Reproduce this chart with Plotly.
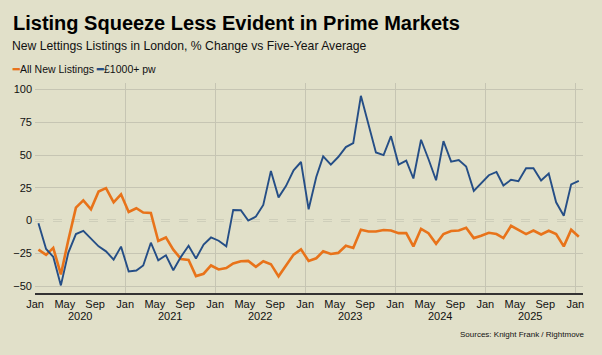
import plotly.graph_objects as go
import pandas as pd

# ---- data ----
months = pd.date_range("2020-01-01", periods=73, freq="MS") + pd.Timedelta(days=14)
all_new_listings = [
    -22.2, -26.2, -20.9, -41.1, -15.0, 9.9, 15.4, 8.6, 22.2, 24.8, 13.9, 20.0,
    6.6, 9.4, 6.1, 5.8, -15.6, -12.9, -22.2, -29.3, -30.0, -42.4, -40.6, -34.3,
    -37.3, -36.3, -32.8, -31.0, -30.8, -35.3, -31.0, -33.3, -42.6, -34.5, -26.0, -22.0,
    -30.8, -28.8, -23.5, -25.5, -24.7, -19.2, -20.9, -7.0, -8.3, -8.3, -7.2, -7.6,
    -9.6, -9.6, -19.7, -6.3, -9.7, -17.8, -10.3, -8.0, -7.6, -5.5, -13.4, -11.6,
    -9.3, -10.3, -13.4, -4.0, -7.0, -10.3, -7.6, -10.6, -7.8, -10.3, -19.7, -7.0,
    -12.3,
]
prime_1000pw = [
    -2.0, -21.7, -27.7, -49.5, -24.7, -10.3, -7.8, -14.1, -19.7, -23.5, -29.8, -19.9,
    -38.9, -38.1, -34.3, -16.9, -30.3, -26.5, -37.9, -27.7, -19.2, -29.0, -18.4, -12.9,
    -15.4, -19.7, 8.1, 7.9, 0.0, 3.0, 11.9, 37.9, 17.7, 26.3, 38.4, 44.7,
    8.6, 33.3, 49.0, 42.7, 48.5, 56.1, 59.1, 95.2, 73.8, 52.0, 50.0, 64.4,
    42.7, 45.7, 32.1, 61.7, 47.0, 30.8, 60.6, 45.0, 46.2, 41.2, 22.7, 28.3,
    34.6, 37.1, 26.8, 31.1, 30.1, 39.9, 39.9, 30.6, 35.9, 13.9, 3.6, 27.6,
    30.3,
]
years = [2020, 2021, 2022, 2023, 2024, 2025]
month_labels = ["Jan", "May", "Sep"]
y_ticks = [-50, -25, 0, 25, 50, 75, 100]

BG = "#E1E0C9"
ORANGE = "#E8731A"
BLUE = "#254E86"
GRID = "#C6C5B3"

tick_dates = []
tick_text = []
for yr in years + [2026]:
    for m, lab in zip([1, 5, 9], month_labels):
        if yr == 2026 and m > 1:
            continue
        tick_dates.append(pd.Timestamp(year=yr, month=m, day=1))
        tick_text.append(lab)
jan_dates = [pd.Timestamp(year=yr, month=1, day=1) for yr in years + [2026]]

fig = go.Figure()
fig.add_trace(go.Scatter(x=months, y=all_new_listings, mode="lines",
                         name="All New Listings",
                         line=dict(color=ORANGE, width=2.6)))
fig.add_trace(go.Scatter(x=months, y=prime_1000pw, mode="lines",
                         name="£1000+ pw",
                         line=dict(color=BLUE, width=1.9)))

fig.add_shape(type="line", xref="paper", x0=0, x1=1, yref="y", y0=0, y1=0,
              line=dict(color="#999990", width=1.5, dash="dash"), layer="below")

FONT = "Liberation Sans, Arial, sans-serif"
L, R, T, B = 35, 19, 83, 62
PW, PH = 602 - L - R, 355 - T - B

fig.update_layout(
    width=602, height=355,
    paper_bgcolor=BG, plot_bgcolor=BG,
    margin=dict(l=L, r=R, t=T, b=B),
    showlegend=False,
    font=dict(family=FONT, size=11, color="#222222"),
    xaxis=dict(
        type="date", automargin=False,
        range=[pd.Timestamp("2020-01-01"), pd.Timestamp("2026-02-01")],
        tickvals=tick_dates, ticktext=tick_text,
        showgrid=False, ticks="",
        showline=True, linecolor="#333333", linewidth=1.5,
        zeroline=False,
        tickfont=dict(size=11, color="#111111"),
        minor=dict(tickvals=jan_dates, showgrid=True, gridcolor=GRID,
                   gridwidth=1, ticks=""),
    ),
    yaxis=dict(
        range=[-55.3, 105], automargin=False,
        tickvals=y_ticks,
        showgrid=True, gridcolor=GRID, gridwidth=1,
        zeroline=True, zerolinecolor=BG, zerolinewidth=1,
        ticks="", tickfont=dict(size=11, color="#111111"),
        ticklabelstandoff=2,
        showline=False,
    ),
)


def px_x(x):
    return (x - L) / PW


def px_y(y):
    return (355 - B - y) / PH


fig.add_annotation(text="<b>Listing Squeeze Less Evident in Prime Markets</b>",
                   xref="paper", yref="paper", x=px_x(11), y=px_y(10),
                   xanchor="left", yanchor="top", showarrow=False,
                   font=dict(size=20, color="#000000", family=FONT))
fig.add_annotation(text="New Lettings Listings in London, % Change vs Five-Year Average",
                   xref="paper", yref="paper", x=px_x(10), y=px_y(37),
                   xanchor="left", yanchor="top", showarrow=False,
                   font=dict(size=12.2, color="#111111", family=FONT))
fig.add_annotation(text=f"<span style='color:{ORANGE}'><b>━</b></span>All New Listings "
                        f"<span style='color:{BLUE}'><b>━</b></span>£1000+ pw",
                   xref="paper", yref="paper", x=px_x(10), y=px_y(61),
                   xanchor="left", yanchor="top", showarrow=False,
                   font=dict(size=10.5, color="#111111", family=FONT))
for yr in years:
    fig.add_annotation(text=str(yr), xref="x", yref="paper",
                       x=pd.Timestamp(year=yr, month=7, day=2), y=px_y(308),
                       xanchor="center", yanchor="top", showarrow=False,
                       font=dict(size=11, color="#111111", family=FONT))
fig.add_annotation(text="Sources: Knight Frank / Rightmove",
                   xref="paper", yref="paper", x=px_x(587), y=px_y(328),
                   xanchor="right", yanchor="top", showarrow=False,
                   font=dict(size=8, color="#111111", family=FONT))

fig.write_html("out.html",
               config={"displayModeBar": False},
               post_script="document.body.style.margin='0px';"
                           f"document.body.style.background='{BG}';")
